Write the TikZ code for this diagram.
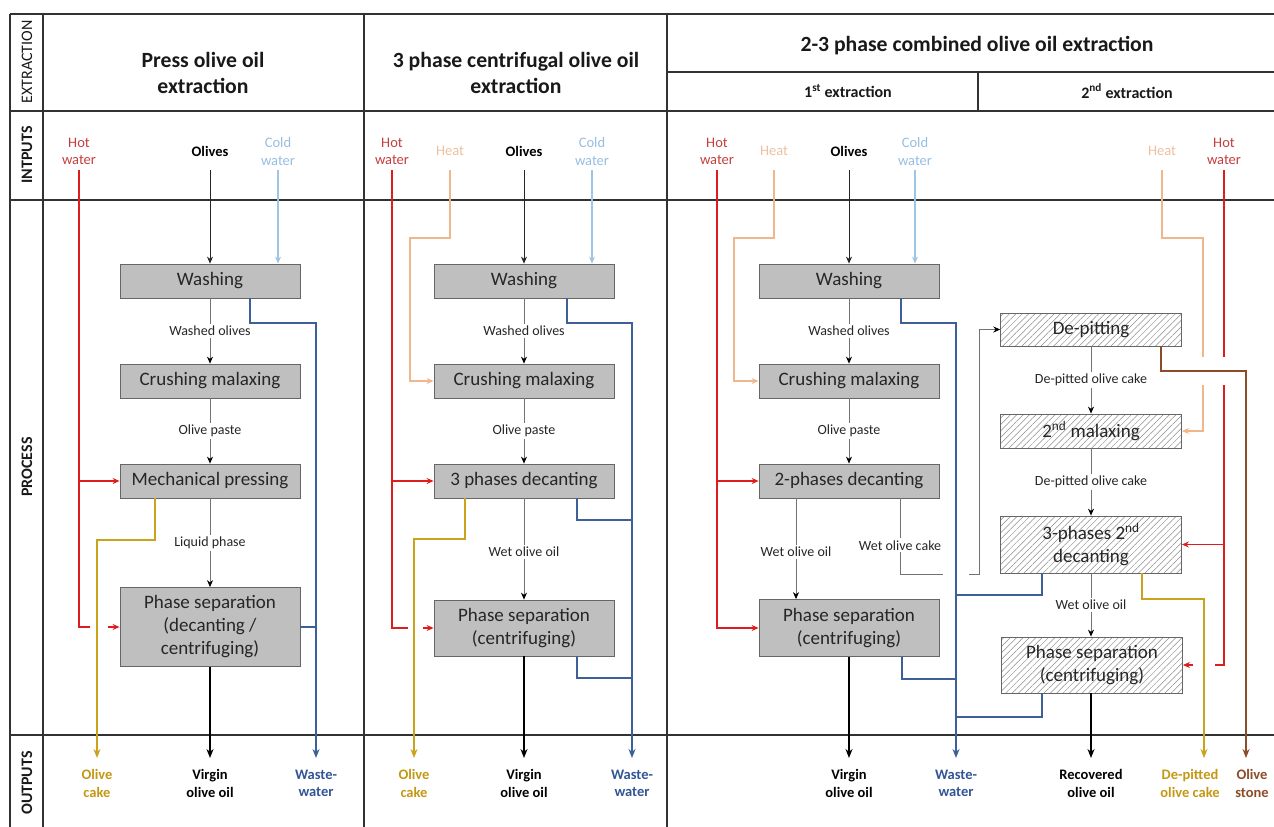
\documentclass[tikz,border=0pt]{standalone}
\usepackage{fontspec}
\setmainfont{Carlito}
\usetikzlibrary{arrows.meta,patterns.meta,calc}
\definecolor{boxgrey}{RGB}{191,191,191}
\definecolor{hotred}{RGB}{222,30,30}
\definecolor{hottxt}{RGB}{196,62,62}
\definecolor{heatc}{RGB}{240,182,140}
\definecolor{heattxt}{RGB}{236,192,160}
\definecolor{coldc}{RGB}{160,196,228}
\definecolor{coldtxt}{RGB}{150,190,225}
\definecolor{wwc}{RGB}{62,96,152}
\definecolor{wwtxt}{RGB}{50,85,150}
\definecolor{cakec}{RGB}{203,162,28}
\definecolor{caketxt}{RGB}{196,152,20}
\definecolor{stonec}{RGB}{140,76,40}
\definecolor{gridc}{RGB}{50,50,50}
\begin{document}
\begin{tikzpicture}[x=1pt,y=-1pt,
  box/.style={draw=black!60, line width=0.8pt, fill=boxgrey, minimum width=180pt, minimum height=34pt,
    inner sep=0pt, align=center, font=\fontsize{19}{23}\selectfont, text=black!85},
  hbox/.style={draw=black!60, line width=0.8pt, minimum width=181pt, minimum height=34pt,
    inner sep=0pt, align=center, font=\fontsize{19}{23}\selectfont, text=black!85,
    pattern={Lines[angle=45,distance=4.5pt,line width=0.5pt]}, pattern color=black!45},
  lbl/.style={fill=white, inner sep=2pt, font=\fontsize{14}{17}\selectfont, text=black!85},
  tipS/.style={-{Stealth[length=7pt,width=6pt]}},
  flowline/.style={draw=black!55, line width=0.7pt},
  flow/.style={flowline, -{Stealth[length=7pt,width=6pt,color=black]}},
  hot/.style={draw=hotred, line width=1.1pt},
  heat/.style={draw=heatc, line width=1.1pt},
  cold/.style={draw=coldc, line width=1.1pt},
  inol/.style={draw=black!85, line width=0.8pt},
  ww/.style={draw=wwc, line width=1.8pt},
  cake/.style={draw=cakec, line width=1.8pt},
  stone/.style={draw=stonec, line width=1.8pt},
  oil/.style={draw=black, line width=1.8pt},
  outarr/.style={-{Stealth[length=9pt,width=7pt]}},
  intxt/.style={font=\fontsize{14.5}{17.4}\selectfont, align=center, inner sep=0pt},
  outtxt/.style={font=\bfseries\fontsize{14.5}{17.4}\selectfont, align=center, inner sep=0pt},
  title/.style={font=\bfseries\fontsize{21.7}{26}\selectfont, align=center, text=black!90},
  subtitle/.style={font=\bfseries\fontsize{16}{19}\selectfont, text=black!90},
  grid/.style={draw=gridc, line width=1.4pt},
  side/.style={rotate=90, font=\bfseries\fontsize{16}{19}\selectfont, text=black!90}
]
\useasboundingbox (0,0) rectangle (1274,827);

% ---------- table grid ----------
\draw[grid] (10,14) -- (1274,14);
\draw[grid] (667,72) -- (1274,72);
\draw[grid] (10,111) -- (1274,111);
\draw[grid] (10,200) -- (1274,200);
\draw[grid] (10,735) -- (1274,735);
\draw[grid] (10,14) -- (10,827);
\draw[grid] (43,14) -- (43,827);
\draw[grid] (364,14) -- (364,827);
\draw[grid] (667,14) -- (667,827);
\draw[grid] (978,72) -- (978,111);

% ---------- row labels ----------
\node[side, font=\fontsize{16}{19}\selectfont] (rx) at (27,62) {EXTRACTION};
\node[side] (ri) at (27,155) {INTPUTS};
\node[side] (rp) at (27,467) {PROCESS};
\node[side] (ro) at (27,783) {OUTPUTS};

% ---------- headers ----------
\node[title] (t1) at (203,73) {Press olive oil\\extraction};
\node[title] (t2) at (516,73) {3 phase centrifugal olive oil\\extraction};
\node[title] (t3) at (977,46) {2-3 phase combined olive oil extraction};
\node[subtitle] (s1) at (848,91) {1\textsuperscript{st} extraction};
\node[subtitle] (s2) at (1127,91) {2\textsuperscript{nd} extraction};

\coordinate (intop) at (0,170);
\coordinate (outend) at (0,758);

% ---------- inputs ----------
\node[intxt, text=hottxt] (hw1) at (79,151.5) {Hot\\water};
\node[intxt, font=\bfseries\fontsize{14.5}{17.4}\selectfont] (ol1) at (210,151) {Olives};
\node[intxt, text=coldtxt] (cw1) at (278,151.5) {Cold\\water};

\node[intxt, text=hottxt] (hw2) at (392,151.5) {Hot\\water};
\node[intxt, text=heattxt] (ht2) at (450,151) {Heat};
\node[intxt, font=\bfseries\fontsize{14.5}{17.4}\selectfont] (ol2) at (524,151) {Olives};
\node[intxt, text=coldtxt] (cw2) at (592,151.5) {Cold\\water};

\node[intxt, text=hottxt] (hw3) at (717,151.5) {Hot\\water};
\node[intxt, text=heattxt] (ht3) at (774,151) {Heat};
\node[intxt, font=\bfseries\fontsize{14.5}{17.4}\selectfont] (ol3) at (849,151) {Olives};
\node[intxt, text=coldtxt] (cw3) at (915,151.5) {Cold\\water};
\node[intxt, text=heattxt] (ht4) at (1162,151) {Heat};
\node[intxt, text=hottxt] (hw4) at (1224,151.5) {Hot\\water};

% ---------- outputs ----------
\node[outtxt, text=caketxt] (oc1) at (97,783.5) {Olive\\cake};
\node[outtxt] (vo1) at (210,783.5) {Virgin\\olive oil};
\node[outtxt, text=wwtxt] (wo1) at (316,783.5) {Waste-\\water};
\node[outtxt, text=caketxt] (oc2) at (414,783.5) {Olive\\cake};
\node[outtxt] (vo2) at (524,783.5) {Virgin\\olive oil};
\node[outtxt, text=wwtxt] (wo2) at (632,783.5) {Waste-\\water};
\node[outtxt] (vo3) at (849,783.5) {Virgin\\olive oil};
\node[outtxt, text=wwtxt] (wo3) at (956,783.5) {Waste-\\water};
\node[outtxt] (ro4) at (1091,783.5) {Recovered\\olive oil};
\node[outtxt, text=caketxt] (dc4) at (1190,783.5) {De-pitted\\olive cake};
\node[outtxt, text=stonec] (os4) at (1252,783.5) {Olive\\stone};
\coordinate (dcin) at (1204,758);
\coordinate (osin) at (1246,758);

% ---------- process boxes ----------
\node[box] (w1) at (210,281) {Washing};
\node[box] (c1) at (210,381) {Crushing malaxing};
\node[box] (m1) at (210,481) {Mechanical pressing};
\node[box, minimum height=79pt] (p1) at (210,627) {Phase separation\\(decanting /\\centrifuging)};

\node[box] (w2) at (524,281) {Washing};
\node[box] (c2) at (524,381) {Crushing malaxing};
\node[box] (d2) at (524,481) {3 phases decanting};
\node[box, minimum height=56pt] (p2) at (524,628) {Phase separation\\(centrifuging)};

\node[box] (w3) at (849,281) {Washing};
\node[box] (c3) at (849,381) {Crushing malaxing};
\node[box] (d3) at (849,481) {2-phases decanting};
\node[box, minimum height=57pt] (p3) at (849,628) {Phase separation\\(centrifuging)};

\node[hbox, minimum height=33pt] (dp) at (1091,329.5) {De-pitting};
\node[hbox] (m2) at (1091,431) {2\textsuperscript{nd} malaxing};
\node[hbox, minimum height=57pt] (d4) at (1091,544.5) {3-phases 2\textsuperscript{nd}\\decanting};
\node[hbox, minimum height=56pt] (p4) at (1092,665) {Phase separation\\(centrifuging)};

% ---------- process flows ----------
\draw[flow] (w1) -- node[lbl]{Washed olives} (c1);
\draw[flow] (c1) -- node[lbl]{Olive paste} (m1);
\draw[flow] (m1) -- node[lbl]{Liquid phase} (p1);

\draw[flow] (w2) -- node[lbl]{Washed olives} (c2);
\draw[flow] (c2) -- node[lbl]{Olive paste} (d2);
\draw[flow] (d2) -- node[lbl, pos=0.53]{Wet olive oil} (p2);

\draw[flow] (w3) -- node[lbl]{Washed olives} (c3);
\draw[flow] (c3) -- node[lbl]{Olive paste} (d3);
\draw[flow] ([xshift=-53pt]d3.south) -- node[lbl, pos=0.53]{Wet olive oil} ([xshift=-53pt]p3.north);
\draw[flowline] ([xshift=51pt]d3.south) -- node[lbl, pos=0.62]{Wet olive cake} (900,574) -- (943,574);
\draw[flow] (969,574) -- (979,574) |- (dp.west);

\draw[flow] (dp) -- node[lbl]{De-pitted olive cake} (m2);
\draw[flow] (m2) -- node[lbl]{De-pitted olive cake} (d4);
\draw[flow] (d4.south) -- node[lbl]{Wet olive oil} (d4.south |- p4.north);

% ---------- inputs flows ----------
\draw[inol, tipS] (ol1 |- intop) -- (w1);
\draw[inol, tipS] (ol2 |- intop) -- (w2);
\draw[inol, tipS] (ol3 |- intop) -- (w3);
\draw[cold, tipS] (cw1 |- intop) -- (cw1 |- w1.north);
\draw[cold, tipS] (cw2 |- intop) -- (cw2 |- w2.north);
\draw[cold, tipS] (cw3 |- intop) -- (cw3 |- w3.north);

\draw[heat, tipS] (ht2 |- intop) |- (410,238) |- (c2.west);
\draw[heat, tipS] (ht3 |- intop) |- (734,238) |- (c3.west);
\draw[heat] (ht4 |- intop) |- (1203,238) -- (1203,357);
\draw[heat, tipS] (1203,385) |- (m2.east);

% hot water col 1
\draw[hot] (hw1 |- intop) -- (79,627) -- (90,627);
\draw[hot, tipS] (hw1 |- m1.west) -- (m1.west);
\draw[hot, tipS] (108,627) -- (p1.west);
% hot water col 2
\draw[hot] (hw2 |- intop) -- (392,628) -- (408,628);
\draw[hot, tipS] (hw2 |- d2.west) -- (d2.west);
\draw[hot, tipS] (423,628) -- (p2.west);
% hot water col 3
\draw[hot, tipS] (hw3 |- intop) |- (p3.west);
\draw[hot, tipS] (hw3 |- d3.west) -- (d3.west);
\draw[hot] (hw4 |- intop) -- (1224,357);
\draw[hot] (1224,385) |- (1215,665);
\draw[hot, tipS] (hw4 |- d4.east) -- (d4.east);
\draw[hot, tipS] (1193,665) -- (p4.east);

% ---------- outputs flows ----------
\draw[cake, outarr] ([xshift=-55pt]m1.south) |- (97,540) -- (oc1 |- outend);
\draw[oil, outarr] (p1) -- (vo1 |- outend);
\draw[ww, outarr] ([xshift=40pt]w1.south) |- (316,323) -- (wo1 |- outend);
\draw[ww] (p1.east) -- (316,627);

\draw[cake, outarr] ([xshift=-59pt]d2.south) |- (414,539) -- (oc2 |- outend);
\draw[oil, outarr] (p2) -- (vo2 |- outend);
\draw[ww, outarr] ([xshift=43pt]w2.south) |- (632,323) -- (wo2 |- outend);
\draw[ww] ([xshift=53pt]d2.south) |- (632,520);
\draw[ww] ([xshift=53pt]p2.south) |- (632,678);

\draw[oil, outarr] (p3) -- (vo3 |- outend);
\draw[ww, outarr] ([xshift=52pt]w3.south) |- (956,323) -- (wo3 |- outend);
\draw[ww] ([xshift=53pt]p3.south) |- (956,679);
\draw[ww] ([xshift=-49pt]d4.south) |- (956,595);
\draw[ww] ([xshift=-50pt]p4.south) |- (956,717);
\draw[oil, outarr] ([xshift=-1pt]p4.south) -- (ro4 |- outend);
\draw[cake, outarr] ([xshift=51pt]d4.south) |- (1204,599) -- (dcin);
\draw[stone, outarr] ([xshift=70pt]dp.south) |- (1246,371) -- (osin);

\end{tikzpicture}
\end{document}
